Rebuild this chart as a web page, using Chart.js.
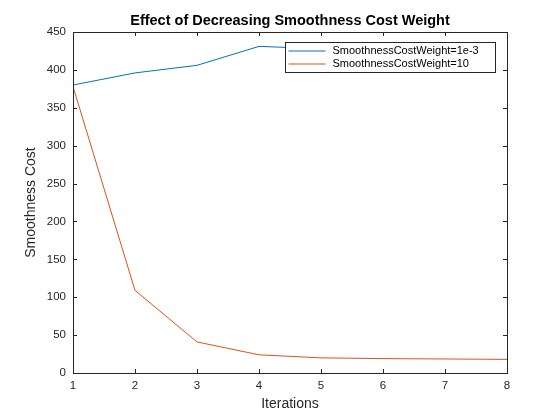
<!DOCTYPE html>
<html>
<head>
<meta charset="utf-8">
<script src="https://cdn.jsdelivr.net/npm/chart.js@4/dist/chart.umd.min.js"></script>
<style>
  html, body { margin: 0; padding: 0; background: #fff; }
  #wrap { width: 560px; height: 420px; }
</style>
</head>
<body>
<div id="wrap"><canvas id="costChart" width="560" height="420"></canvas></div>
<script>
const iterations = [1, 2, 3, 4, 5, 6, 7, 8];
// the tail of this run sits under the legend, so only the visible part is known
const costLowWeight = [380, 396, 406, 431, 428, 427, 426];
const costHighWeight = [378, 109, 41, 24, 20, 19, 18.5, 18];
const seriesLabels = ['SmoothnessCostWeight=1e-3', 'SmoothnessCostWeight=10'];
const yTicks = [0, 50, 100, 150, 200, 250, 300, 350, 400, 450];

const axisColor = '#262626';
const fontFamily = '"Liberation Sans", Arial, Helvetica, sans-serif';

// box + inward ticks, MATLAB style
const boxPlugin = {
    id: 'box',
    afterDraw(chart) {
        const { ctx, chartArea: a, scales } = chart;
        ctx.save();
        ctx.strokeStyle = axisColor;
        ctx.lineWidth = 1;
        ctx.beginPath();
        iterations.forEach(v => {
            const x = Math.round(scales.x.getPixelForValue(v)) + 0.5;
            ctx.moveTo(x, a.bottom); ctx.lineTo(x, a.bottom - 4);
            ctx.moveTo(x, a.top); ctx.lineTo(x, a.top + 4);
        });
        yTicks.forEach(v => {
            const y = Math.round(scales.y.getPixelForValue(v)) + 0.5;
            ctx.moveTo(a.left, y); ctx.lineTo(a.left + 4, y);
            ctx.moveTo(a.right, y); ctx.lineTo(a.right - 4, y);
        });
        ctx.stroke();
        ctx.strokeRect(Math.round(a.left) + 0.5, Math.round(a.top) + 0.5,
            Math.round(a.right - a.left), Math.round(a.bottom - a.top));

        // title
        ctx.fillStyle = '#000';
        ctx.font = 'bold 14.5px ' + fontFamily;
        ctx.textAlign = 'center';
        ctx.textBaseline = 'middle';
        ctx.fillText('Effect of Decreasing Smoothness Cost Weight', (a.left + a.right) / 2, 21);

        // legend
        const lx = 285.5, ly = 42.5, lw = 210, lh = 30;
        ctx.fillStyle = '#fff';
        ctx.fillRect(lx, ly, lw, lh);
        ctx.strokeStyle = axisColor;
        ctx.strokeRect(lx, ly, lw, lh);
        ctx.font = '11px ' + fontFamily;
        ctx.textAlign = 'left';
        chart.data.datasets.forEach((ds, i) => {
            const y = ly + 8.5 + i * 13;
            ctx.strokeStyle = ds.borderColor;
            ctx.beginPath();
            ctx.moveTo(lx + 3, y); ctx.lineTo(lx + 40, y);
            ctx.stroke();
            ctx.fillStyle = '#000';
            ctx.fillText(ds.label, lx + 47, y);
        });
        ctx.restore();
    }
};

const ctx = document.getElementById('costChart').getContext('2d');
new Chart(ctx, {
    type: 'line',
    data: {
        datasets: [
            {
                label: seriesLabels[0],
                data: costLowWeight.map((y, i) => ({ x: iterations[i], y })),
                borderColor: '#0072BD',
                borderWidth: 1,
                pointRadius: 0,
                tension: 0
            },
            {
                label: seriesLabels[1],
                data: costHighWeight.map((y, i) => ({ x: iterations[i], y })),
                borderColor: '#D95319',
                borderWidth: 1,
                pointRadius: 0,
                tension: 0
            }
        ]
    },
    options: {
        responsive: false,
        animation: false,
        layout: { padding: { top: 32, right: 53, left: 0, bottom: 0 } },
        plugins: {
            legend: { display: false },
            tooltip: { enabled: false }
        },
        scales: {
            x: {
                type: 'linear',
                min: 1,
                max: 8,
                afterFit: s => { s.height = 47; },
                afterBuildTicks: s => { s.ticks = iterations.map(v => ({ value: v })); },
                grid: { display: false, drawTicks: false },
                border: { display: false },
                ticks: {
                    color: axisColor,
                    padding: 6,
                    maxRotation: 0,
                    font: { family: fontFamily, size: 11.5 }
                },
                title: {
                    display: true,
                    text: 'Iterations',
                    color: axisColor,
                    padding: { top: 0, bottom: 7 },
                    font: { family: fontFamily, size: 14 }
                }
            },
            y: {
                min: 0,
                max: 450,
                afterFit: s => { s.width = 73; },
                afterBuildTicks: s => { s.ticks = yTicks.map(v => ({ value: v })); },
                grid: { display: false, drawTicks: false },
                border: { display: false },
                ticks: {
                    color: axisColor,
                    padding: 7,
                    font: { family: fontFamily, size: 11.5 }
                },
                title: {
                    display: true,
                    text: 'Smoothness Cost',
                    color: axisColor,
                    padding: { top: 23, bottom: 0 },
                    font: { family: fontFamily, size: 14 }
                }
            }
        }
    },
    plugins: [boxPlugin]
});
</script>
</body>
</html>
